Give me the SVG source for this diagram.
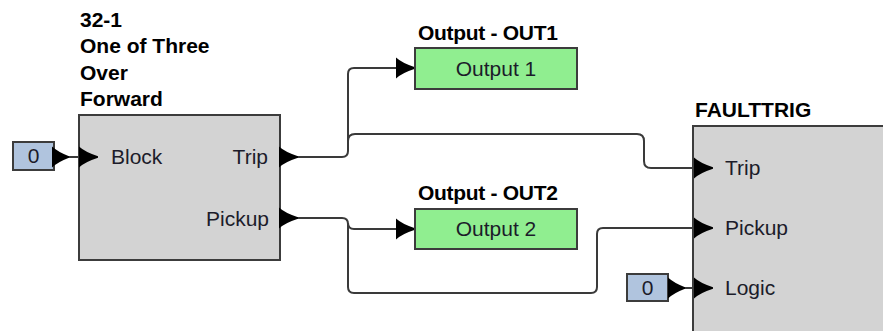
<svg xmlns="http://www.w3.org/2000/svg" width="883" height="331" viewBox="0 0 883 331">
<defs>
<style>
.blk{fill:#d3d3d3;stroke:#3c3c3c;stroke-width:2}
.out{fill:#90ee90;stroke:#3c3c3c;stroke-width:2}
.cst{fill:#b0c4de;stroke:#3c3c3c;stroke-width:2}
.ttl{font-family:"Liberation Sans",Arial,sans-serif;font-size:21px;font-weight:bold;fill:#000}
.lbl{font-family:"Liberation Sans",Arial,sans-serif;font-size:21px;fill:#1c1c2a}
.wire{fill:none;stroke:#3a3a3a;stroke-width:2}
</style>
<path id="ah" d="M-19,-10.5 L-19,10.5 Q-13,5 0,0.8 L0,-0.8 Q-13,-5 -19,-10.5 Z" fill="#000"/>
<path id="ahs" d="M-17,-10.5 L-17,10.5 Q-11,5 0,0.8 L0,-0.8 Q-11,-5 -17,-10.5 Z" fill="#000"/>
</defs>

<g id="connectors">
<path class="wire" d="M297,157 H342 Q348,157 348,151 V74 Q348,68 354,68 H400"/>
<path class="wire" d="M348,141 Q348,134 355,134 H637 Q644,134 644,141 V161 Q644,168 651,168 H697"/>
<path class="wire" d="M297,218 H342 Q348,218 348,224 V287 Q348,293 354,293 H591 Q597,293 597,287 V234 Q597,228 603,228 H697"/>
<path class="wire" d="M348,223 Q348,229 354,229 H400"/>
<path class="wire" d="M54,157 H82"/>
<path class="wire" d="M668,288 H697"/>
<use href="#ah" x="415" y="68"/>
<use href="#ah" x="415" y="229"/>
</g>

<g id="block-32-1">
<text class="ttl" x="80" y="27">32-1</text>
<text class="ttl" x="80" y="53">One of Three</text>
<text class="ttl" x="80" y="80">Over</text>
<text class="ttl" x="80" y="106">Forward</text>
<rect class="blk" x="79" y="115" width="201" height="145"/>
<use href="#ah" x="98" y="157"/>
<text class="lbl" x="111" y="164">Block</text>
<text class="lbl" x="268" y="164" text-anchor="end">Trip</text>
<text class="lbl" x="269" y="226" text-anchor="end">Pickup</text>
<use href="#ah" x="298" y="157"/>
<use href="#ah" x="298" y="218"/>
</g>

<g id="const-block">
<rect class="cst" x="13" y="142" width="41" height="28"/>
<text class="lbl" x="33.5" y="163" text-anchor="middle">0</text>
<use href="#ahs" x="69" y="157"/>
</g>

<g id="output-out1">
<text class="ttl" x="418" y="40" style="letter-spacing:-0.3px">Output - OUT1</text>
<rect class="out" x="415" y="48" width="162" height="41"/>
<text class="lbl" x="496" y="76" text-anchor="middle">Output 1</text>
</g>

<g id="output-out2">
<text class="ttl" x="418" y="200" style="letter-spacing:-0.3px">Output - OUT2</text>
<rect class="out" x="415" y="209" width="162" height="40"/>
<text class="lbl" x="496" y="236" text-anchor="middle">Output 2</text>
</g>

<g id="faulttrig">
<text class="ttl" x="695" y="117">FAULTTRIG</text>
<rect class="blk" x="693" y="126" width="220" height="220"/>
<use href="#ah" x="713" y="168"/>
<use href="#ah" x="713" y="228"/>
<use href="#ah" x="713" y="288"/>
<text class="lbl" x="725" y="175">Trip</text>
<text class="lbl" x="725" y="235">Pickup</text>
<text class="lbl" x="725" y="295">Logic</text>
</g>

<g id="const-logic">
<rect class="cst" x="627" y="274" width="41" height="27"/>
<text class="lbl" x="647.5" y="295" text-anchor="middle">0</text>
<use href="#ahs" x="685" y="288"/>
</g>
</svg>
